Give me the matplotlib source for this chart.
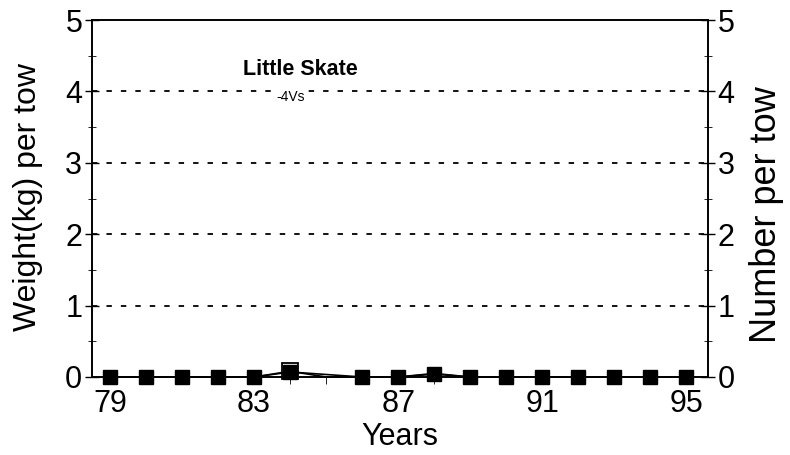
import matplotlib
matplotlib.use("Agg")
import matplotlib.pyplot as plt
from matplotlib.ticker import MultipleLocator

# данные
years = [79, 80, 81, 82, 83, 84, 86, 87, 88, 89, 90, 91, 92, 93, 94, 95]
weight = [0, 0, 0, 0, 0, 0.07, 0, 0, 0.04, 0, 0, 0, 0, 0, 0, 0]
number_years = [79, 80, 81, 82, 83, 84, 85, 86, 87, 88, 89, 90, 91, 92, 93, 94, 95]
number = [0, 0, 0, 0, 0, 0.08, 0, 0, 0, 0.05, 0, 0, 0, 0, 0, 0, 0]
xticks = [79, 83, 87, 91, 95]
yticks = [0, 1, 2, 3, 4, 5]

plt.rcParams['font.family'] = ['Liberation Sans', 'DejaVu Sans']

fig = plt.figure(figsize=(7.9, 4.55), dpi=100)
ax = fig.add_axes([92 / 790, 1 - 377 / 455, 616 / 790, 357 / 455])

ax.plot(number_years, number, color='black', lw=1.2, zorder=3, clip_on=False)
ax.plot(years, weight, color='black', lw=1.2, marker='s', ms=9.5,
        mfc='black', mec='black', zorder=4, clip_on=False)
# открытый квадрат на 84
ax.plot([84], [0.08], marker='s', ms=11.5, mfc='none', mec='black', mew=1.3,
        ls='none', zorder=5, clip_on=False)

ax.set_xlim(78.5, 95.6)
ax.set_ylim(0, 5)
ax.set_xticks(xticks)
ax.xaxis.set_minor_locator(MultipleLocator(1))
ax.set_yticks(yticks)
ax.yaxis.set_minor_locator(MultipleLocator(0.5))
ax.tick_params(axis='x', labelsize=22, direction='out', length=5, width=1, pad=4)
ax.tick_params(axis='x', which='minor', length=5, direction='out')
ax.tick_params(axis='y', labelsize=22, direction='inout', length=10, width=1, pad=2)
ax.tick_params(axis='y', which='minor', length=6, direction='inout')

for y in [1, 2, 3, 4]:
    ax.axhline(y, color='black', lw=1.3, ls=(0, (3, 5)), zorder=1)

ax.set_xlabel('Years', fontsize=22, labelpad=2)

ax2 = ax.twinx()
ax2.set_ylim(0, 5)
ax2.set_yticks(yticks)
ax2.yaxis.set_minor_locator(MultipleLocator(0.5))
ax2.tick_params(axis='y', labelsize=22, direction='inout', length=10, width=1, pad=2)
ax2.tick_params(axis='y', which='minor', length=6, direction='inout')

for a in (ax, ax2):
    for s in a.spines.values():
        s.set_linewidth(1.2)

# подписи осей Y — по центрам как на образце
fig.text(28 / 790, 1 - 197 / 455, 'Weight(kg) per tow', rotation=90,
         ha='center', va='center', fontsize=23)
fig.text(767 / 790, 1 - 215 / 455, 'Number per tow', rotation=90,
         ha='center', va='center', fontsize=26)

ax.text(0.338, 0.86, 'Little Skate', transform=ax.transAxes, ha='center',
        va='center', fontsize=15.5, fontweight='bold')
ax.text(0.322, 0.784, '-4Vs', transform=ax.transAxes, ha='center', va='center',
        fontsize=10, bbox=dict(facecolor='white', edgecolor='none', pad=1), zorder=6)

fig.savefig('out.png', dpi=100)
